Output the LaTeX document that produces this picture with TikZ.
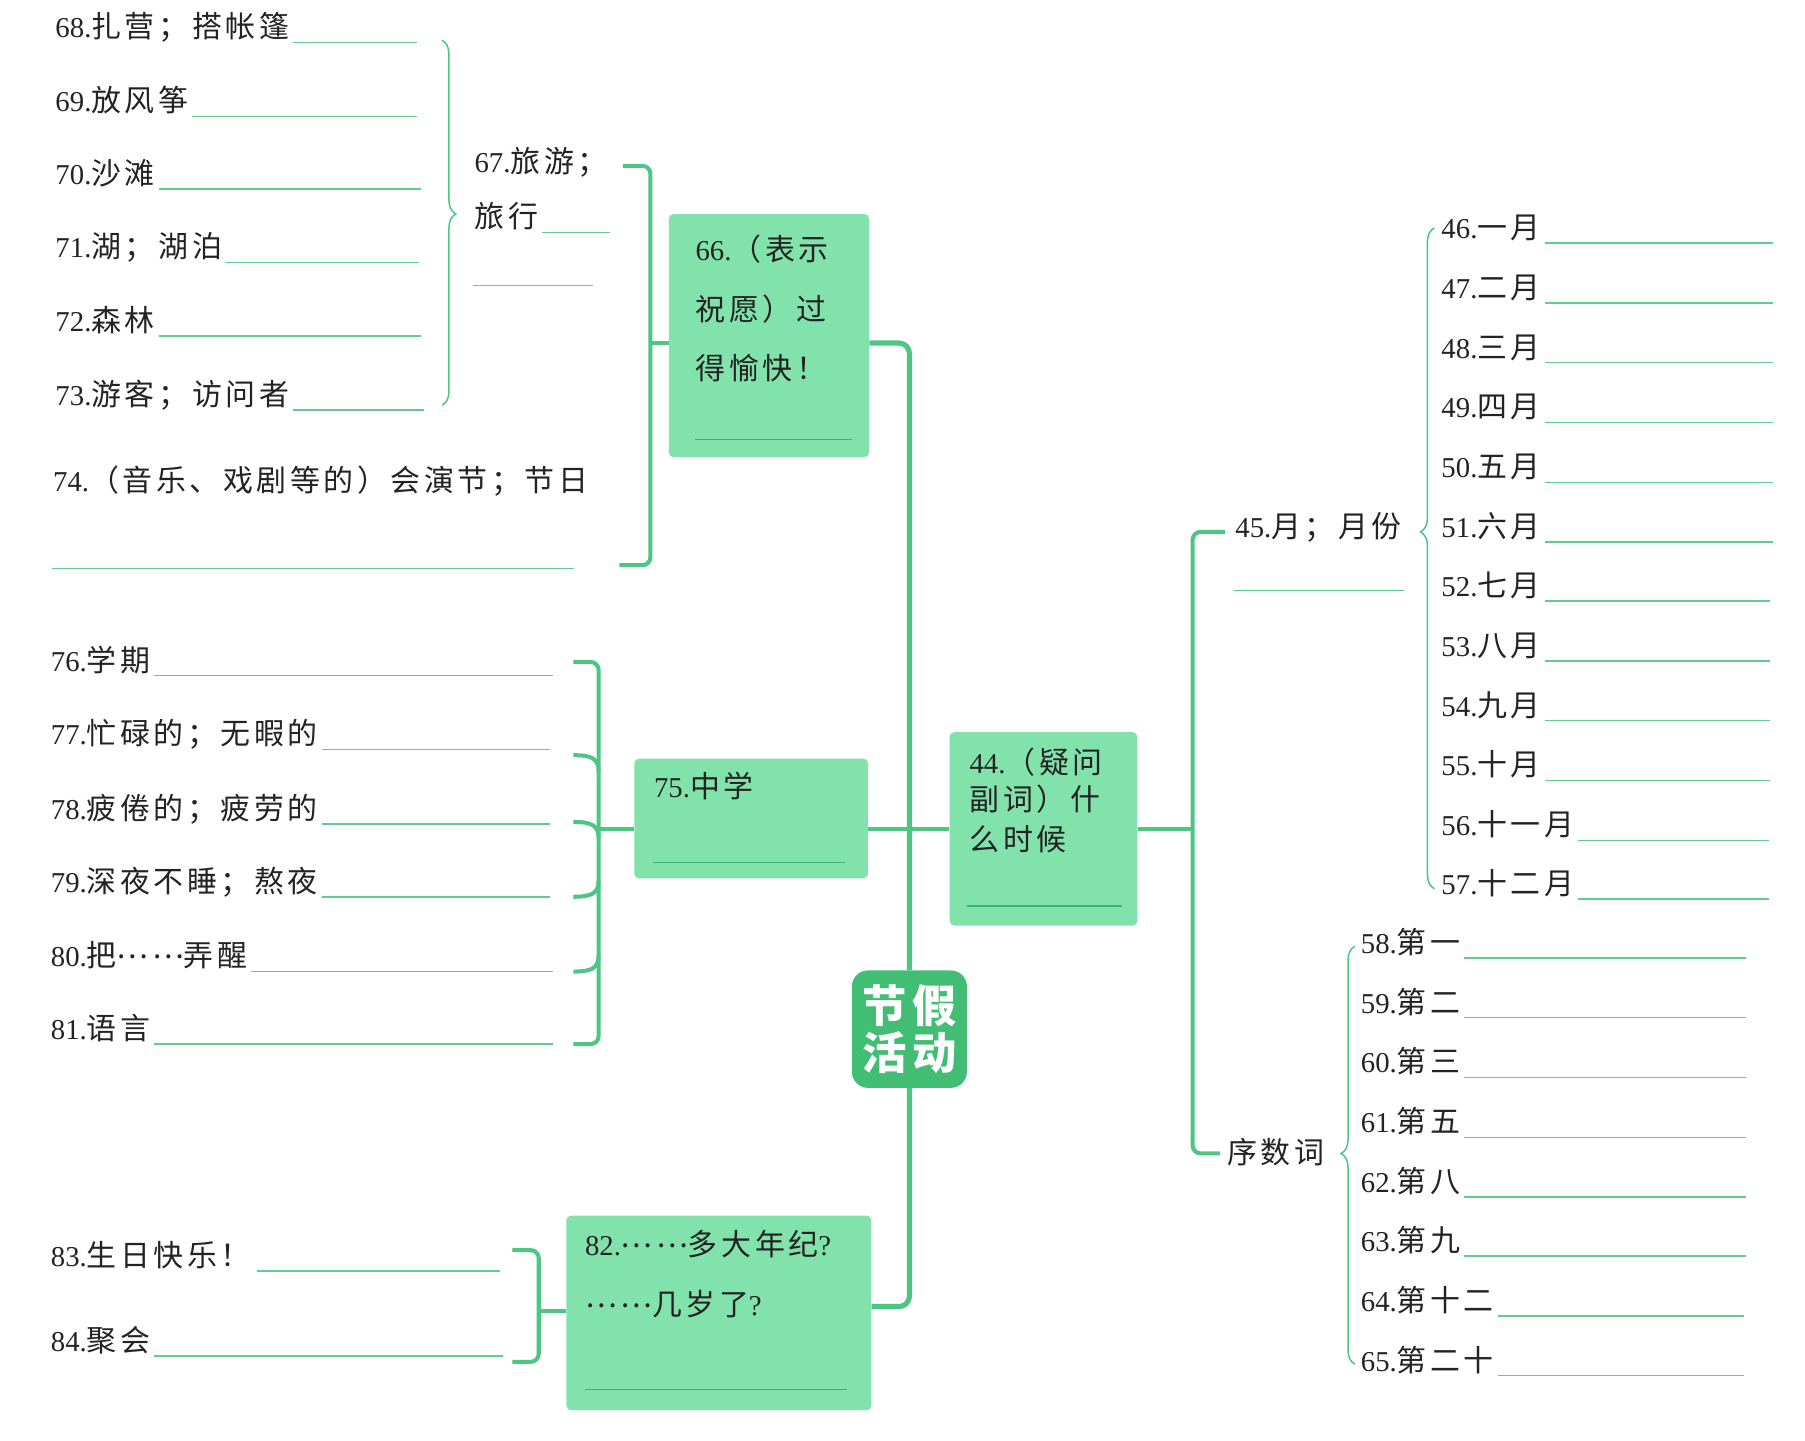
\documentclass[tikz,border=0pt]{standalone}
\usepackage{fontspec}
\setmainfont{Liberation Serif}
\newfontfamily\cjk[LetterSpace=12,Scale=1.04]{Noto Sans CJK SC}
\usetikzlibrary{decorations.pathreplacing,calc}
\definecolor{gline}{RGB}{76,198,130}
\definecolor{gthin}{RGB}{95,205,145}
\definecolor{gin}{RGB}{62,178,112}
\definecolor{gbox}{RGB}{130,226,172}
\definecolor{gcenter}{RGB}{66,190,116}
\definecolor{ink}{RGB}{35,35,35}
\pgfdeclarelayer{bg}
\pgfsetlayers{bg,main}
\newcommand\mdots{\raisebox{7pt}{\cjk ……}}
\newcommand\blankrow[5]{%
  \node[txt] (#1) at (#2,#3-4) {#5};
  \begin{pgfonlayer}{bg}\draw[ul] (#1.base east) ++(3,4) -- (#4,#3);\end{pgfonlayer}
}
\begin{document}
\begin{tikzpicture}[x=1pt,y=-1pt,
 conn/.style={draw=gline,line width=3.5pt,rounded corners=7pt},
 trunk/.style={draw=gline,line width=4.5pt,rounded corners=9pt},
 ul/.style={draw=gthin,line width=1.3pt},
 ulin/.style={draw=gin,line width=1.2pt},
 brc/.style={draw=gline,line width=1.3pt,decorate,decoration={brace,amplitude=12pt,aspect=#1}},
 txt/.style={inner sep=0pt,anchor=base west,text=ink,font=\fontsize{25}{30}\selectfont},
 box/.style={fill=gbox,rounded corners=4pt,inner sep=0pt},
]
\useasboundingbox (0,0) rectangle (1568,1251);

% ---------- boxes ----------
\node[box,minimum width=174pt,minimum height=211pt] (b66) at (668,291.5) {};
\node[box,minimum width=203pt,minimum height=104pt] (b75) at (652.5,711) {};
\node[box,minimum width=163pt,minimum height=168pt] (b44) at (906.5,720) {};
\node[box,minimum width=265pt,minimum height=169pt] (b82) at (624.5,1140.5) {};
\node[fill=gcenter,rounded corners=14pt,minimum width=100pt,minimum height=102pt,inner sep=0pt,
      text=white,align=center,font=\fontsize{37}{41}\selectfont\cjk\bfseries] (hub) at (790,894) {节假\\活动};

% box texts
\node[txt] (t66a) at (604,226) {66.{\cjk （表示}};
\node[txt] (t66b) at (604,278) {\cjk 祝愿）过};
\node[txt] (t66c) at (604,330) {\cjk 得愉快！};
\coordinate (u66a) at (604,382); \coordinate (u66b) at (740,382);
\node[txt] (t75) at (568,693) {75.{\cjk 中学}};
\coordinate (u75a) at (567,749); \coordinate (u75b) at (734,749);
\node[txt] (t44a) at (842,672) {44.{\cjk （疑问}};
\node[txt] (t44b) at (842,704) {\cjk 副词）什};
\node[txt] (t44c) at (842,739) {\cjk 么时候};
\coordinate (u44a) at (840,787); \coordinate (u44b) at (975,787);
\node[txt] (t82a) at (508,1091) {82.\mdots{\cjk 多大年纪}?};
\node[txt] (t82b) at (508,1143) {\mdots{\cjk 几岁了}?};
\coordinate (u82a) at (508,1207); \coordinate (u82b) at (736,1207);
\draw[ulin] (u66a) -- (u66b);
\draw[ulin] (u75a) -- (u75b);
\draw[ulin] (u44a) -- (u44b);
\draw[ulin] (u82a) -- (u82b);

% ---------- top-left group ----------
\blankrow{t68}{48}{37}{362}{68.{\cjk 扎营；搭帐篷}}
\blankrow{t69}{48}{101}{362}{69.{\cjk 放风筝}}
\blankrow{t70}{48}{164}{366}{70.{\cjk 沙滩}}
\blankrow{t71}{48}{228}{364}{71.{\cjk 湖；湖泊}}
\blankrow{t72}{48}{292}{366}{72.{\cjk 森林}}
\blankrow{t73}{48}{356}{368}{73.{\cjk 游客；访问者}}
\node[txt] (t67a) at (412,150) {67.{\cjk 旅游；}};
\blankrow{t67b}{412}{202}{530}{\cjk 旅行}
\coordinate (u67a) at (411,248); \coordinate (u67b) at (515,248);
\node[txt] (t74) at (46,427) {74.{\cjk （音乐、戏剧等的）会演节；节日}};
\coordinate (u74a) at (45,494); \coordinate (u74b) at (499,494);
\coordinate (c67r) at (541,144); \coordinate (c74r) at (538,491);
\coordinate (br1a) at (384,35); \coordinate (br1b) at (384,352);

% ---------- middle-left group ----------
\blankrow{t76}{44}{587}{480}{76.{\cjk 学期}}
\blankrow{t77}{44}{651}{478}{77.{\cjk 忙碌的；无暇的}}
\blankrow{t78}{44}{716}{478}{78.{\cjk 疲倦的；疲劳的}}
\blankrow{t79}{44}{779}{478}{79.{\cjk 深夜不睡；熬夜}}
\blankrow{t80}{44}{844}{480}{80.{\cjk 把}\mdots{\cjk 弄醒}}
\blankrow{t81}{44}{907}{480}{81.{\cjk 语言}}
\coordinate (c76r) at (498,575); \coordinate (c81r) at (498,907);
\coordinate (c77r) at (498,656); \coordinate (c78r) at (498,714);
\coordinate (c79r) at (498,779); \coordinate (c80r) at (498,844);

% ---------- bottom-left group ----------
\node[txt] (t83) at (44,1100) {83.{\cjk 生日快乐！}};
\coordinate (u83a) at (223,1104); \coordinate (u83b) at (434,1104);
\blankrow{t84}{44}{1178}{437}{84.{\cjk 聚会}}
\coordinate (c83r) at (445,1086); \coordinate (c84r) at (445,1183);

% ---------- right side ----------
\node[txt] (t45) at (1073,467) {45.{\cjk 月；月份}};
\coordinate (u45a) at (1072,513); \coordinate (u45b) at (1220,513);
\node[txt] (txu) at (1066,1011) {\cjk 序数词};
\coordinate (c45) at (1064,462); \coordinate (cxu) at (1060,1002);
\blankrow{m46}{1252}{211}{1540}{46.{\cjk 一月}}
\blankrow{m47}{1252}{263}{1540}{47.{\cjk 二月}}
\blankrow{m48}{1252}{315}{1540}{48.{\cjk 三月}}
\blankrow{m49}{1252}{367}{1540}{49.{\cjk 四月}}
\blankrow{m50}{1252}{419}{1540}{50.{\cjk 五月}}
\blankrow{m51}{1252}{471}{1540}{51.{\cjk 六月}}
\blankrow{m52}{1252}{522}{1538}{52.{\cjk 七月}}
\blankrow{m53}{1252}{574}{1538}{53.{\cjk 八月}}
\blankrow{m54}{1252}{626}{1538}{54.{\cjk 九月}}
\blankrow{m55}{1252}{678}{1538}{55.{\cjk 十月}}
\blankrow{m56}{1252}{730}{1537}{56.{\cjk 十一月}}
\blankrow{m57}{1252}{781}{1537}{57.{\cjk 十二月}}
\coordinate (br2a) at (1246,772); \coordinate (br2b) at (1246,198);
\blankrow{o58}{1182}{832}{1517}{58.{\cjk 第一}}
\blankrow{o59}{1182}{884}{1517}{59.{\cjk 第二}}
\blankrow{o60}{1182}{936}{1517}{60.{\cjk 第三}}
\blankrow{o61}{1182}{988}{1517}{61.{\cjk 第五}}
\blankrow{o62}{1182}{1040}{1517}{62.{\cjk 第八}}
\blankrow{o63}{1182}{1091}{1517}{63.{\cjk 第九}}
\blankrow{o64}{1182}{1143}{1515}{64.{\cjk 第十二}}
\blankrow{o65}{1182}{1195}{1515}{65.{\cjk 第二十}}
\coordinate (br3a) at (1177,1185); \coordinate (br3b) at (1177,822);

% ---------- connectors ----------
\begin{pgfonlayer}{bg}
\draw[ul] (u67a) -- (u67b);
\draw[ul] (u74a) -- (u74b);
\draw[ul] (u83a) -- (u83b);
\draw[ul] (u45a) -- (u45b);
% braces
\draw[brc=0.476] (br1a) -- (br1b);
\draw[brc=0.54] (br2a) -- (br2b);
\draw[brc=0.504] (br3a) -- (br3b);
% trunk
\draw[trunk] (hub.north) -- (790,298) -- (b66.east |- 0,298);
\draw[trunk] (hub.south) -- (790,1135) -- (b82.east |- 0,1135);
\draw[conn] (b75.east |- 0,720) -- (b44.west);
% 66 bracket
\draw[conn] (c67r) -- (565,144) -- (565,491) -- (c74r);
\draw[conn] (565,298) -- (b66.west |- 0,298);
% 75 bracket
\draw[conn] (c76r) -- (520,575) -- (520,907) -- (c81r);
\draw[conn,rounded corners=0pt] (c77r) .. controls (514,656) and (520,659) .. (520,670);
\draw[conn,rounded corners=0pt] (c78r) .. controls (514,714) and (520,717) .. (520,728);
\draw[conn,rounded corners=0pt] (c79r) .. controls (514,779) and (520,776) .. (520,765);
\draw[conn,rounded corners=0pt] (c80r) .. controls (514,844) and (520,841) .. (520,830);
\draw[conn] (520,720) -- (b75.west |- 0,720);
% 82 bracket
\draw[conn] (c83r) -- (468,1086) -- (468,1183) -- (c84r);
\draw[conn] (468,1139) -- (b82.west |- 0,1139);
% right side
\draw[conn] (b44.east) -- (1036,720);
\draw[conn] (c45) -- (1036,462) -- (1036,1002) -- (cxu);
\end{pgfonlayer}
\end{tikzpicture}
\end{document}
